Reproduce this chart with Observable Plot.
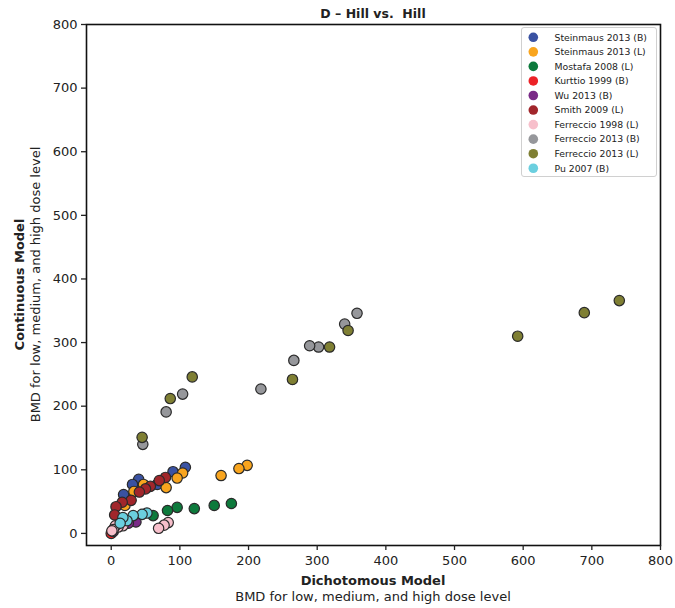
<!DOCTYPE html>
<html>
<head>
<meta charset="utf-8">
<script src="https://cdn.jsdelivr.net/npm/d3@7"></script>
<script src="https://cdn.jsdelivr.net/npm/@observablehq/plot@0.6"></script>
<style>
  html, body { margin: 0; padding: 0; background: #fff; }
  #chart { width: 675px; height: 608px; }
</style>
</head>
<body>
<div id="chart"></div>
<script>
// ---- data ----
const studies = [
  "Steinmaus 2013 (B)", "Steinmaus 2013 (L)", "Mostafa 2008 (L)", "Kurttio 1999 (B)",
  "Wu 2013 (B)", "Smith 2009 (L)", "Ferreccio 1998 (L)", "Ferreccio 2013 (B)",
  "Ferreccio 2013 (L)", "Pu 2007 (B)"
];
const colors = [
  "#3a52a2", "#f9a51e", "#0d7a3c", "#ec2227", "#7a2a87",
  "#a1262b", "#f7bfcb", "#96979b", "#7f7f33", "#6bcfdf"
];
const steinmausB = [[108,104],[90,97],[67,77],[40,85],[31,77],[18,61]];
const steinmausL = [[198,107],[186,102],[160,91],[104,95],[96,87],[80,72],[47,77],[33,66],[20,44]];
const mostafaL   = [[175,47],[150,44],[121,39],[96,41],[82,36],[61,28]];
const kurttioB   = [[1,2],[0,0]];
const wuB        = [[36,18],[25,16],[3,3]];
const smithL     = [[79,88],[70,83],[57,74],[50,70],[41,65],[29,52],[16,49],[7,42],[5,29]];
const ferreccio98L = [[83,17],[77,13],[69,8],[17,12],[10,10],[6,12],[3,6],[1,4]];
const ferreccio13B = [[358,346],[340,329],[302,293],[289,295],[266,272],[218,227],[104,219],[80,191],[46,140]];
const ferreccio13L = [[740,366],[689,347],[592,310],[345,319],[318,293],[264,242],[118,246],[86,212],[45,151]];
const pu2007B    = [[52,32],[45,30],[32,28],[23,20],[17,25],[13,16]];
const series = [steinmausB, steinmausL, mostafaL, kurttioB, wuB, smithL,
                ferreccio98L, ferreccio13B, ferreccio13L, pu2007B];
const xTicks = [0,100,200,300,400,500,600,700,800];
const yTicks = [0,100,200,300,400,500,600,700,800];

const rows = [];
series.forEach((s, i) => s.forEach(([x, y]) => rows.push({study: studies[i], x, y})));

const font = "DejaVu Sans, sans-serif";
const chart = Plot.plot({
  width: 675, height: 608,
  marginLeft: 86, marginRight: 15, marginTop: 24, marginBottom: 63,
  style: {fontFamily: font, fontSize: "13px", color: "#222", background: "#fff"},
  x: {domain: [-36, 800]},
  y: {domain: [-19, 800]},
  color: {domain: studies, range: colors},
  marks: [
    Plot.dot(rows, {x: "x", y: "y", fill: "study", r: 5.2, stroke: "#2a2a2a", strokeWidth: 1.2}),
    Plot.frame({stroke: "#111", strokeWidth: 1.6}),
    Plot.axisX({ticks: xTicks, tickSize: 5, tickPadding: 5, label: null, fontSize: 13, strokeWidth: 1.3}),
    Plot.axisY({ticks: yTicks, tickSize: 5, tickPadding: 4, label: null, fontSize: 13, strokeWidth: 1.3})
  ]
});
document.getElementById("chart").appendChild(chart);

// ---- titles, axis labels, legend ----
const svg = d3.select(chart);
const cx = (86 + 660) / 2, cy = (24 + 545) / 2;
svg.append("text").attr("x", cx).attr("y", 18).attr("text-anchor", "middle")
  .attr("font-family", font).attr("font-weight", "bold").attr("font-size", 12.5).attr("fill", "#222")
  .attr("xml:space", "preserve").style("white-space", "pre")
  .text("D \u2013 Hill vs.  Hill");
svg.append("text").attr("x", cx).attr("y", 585).attr("text-anchor", "middle")
  .attr("font-family", font).attr("font-weight", "bold").attr("font-size", 13).attr("fill", "#222")
  .text("Dichotomous Model");
svg.append("text").attr("x", cx).attr("y", 601).attr("text-anchor", "middle")
  .attr("font-family", font).attr("font-size", 13).attr("fill", "#222")
  .text("BMD for low, medium, and high dose level");
svg.append("text").attr("transform", `translate(23.5,${cy}) rotate(-90)`).attr("text-anchor", "middle")
  .attr("font-family", font).attr("font-weight", "bold").attr("font-size", 13).attr("fill", "#222")
  .text("Continuous Model");
svg.append("text").attr("transform", `translate(39.5,${cy}) rotate(-90)`).attr("text-anchor", "middle")
  .attr("font-family", font).attr("font-size", 13).attr("fill", "#222")
  .text("BMD for low, medium, and high dose level");

const lg = svg.append("g").attr("text-anchor", "start");
lg.append("rect").attr("x", 521.5).attr("y", 27.5).attr("width", 135).attr("height", 149)
  .attr("rx", 2.5).attr("fill", "#fff").attr("fill-opacity", 0.85).attr("stroke", "#d0d0d0").attr("stroke-width", 1);
studies.forEach((s, i) => {
  const y = 37.3 + i * 14.55;
  lg.append("circle").attr("cx", 533.3).attr("cy", y).attr("r", 4.8).attr("fill", colors[i]).attr("stroke", "none");
  lg.append("text").attr("x", 554.5).attr("y", y).attr("dy", "0.35em").attr("text-anchor", "start")
    .attr("font-family", font).attr("font-size", 9.3).attr("fill", "#222").text(s);
});
</script>
</body>
</html>
